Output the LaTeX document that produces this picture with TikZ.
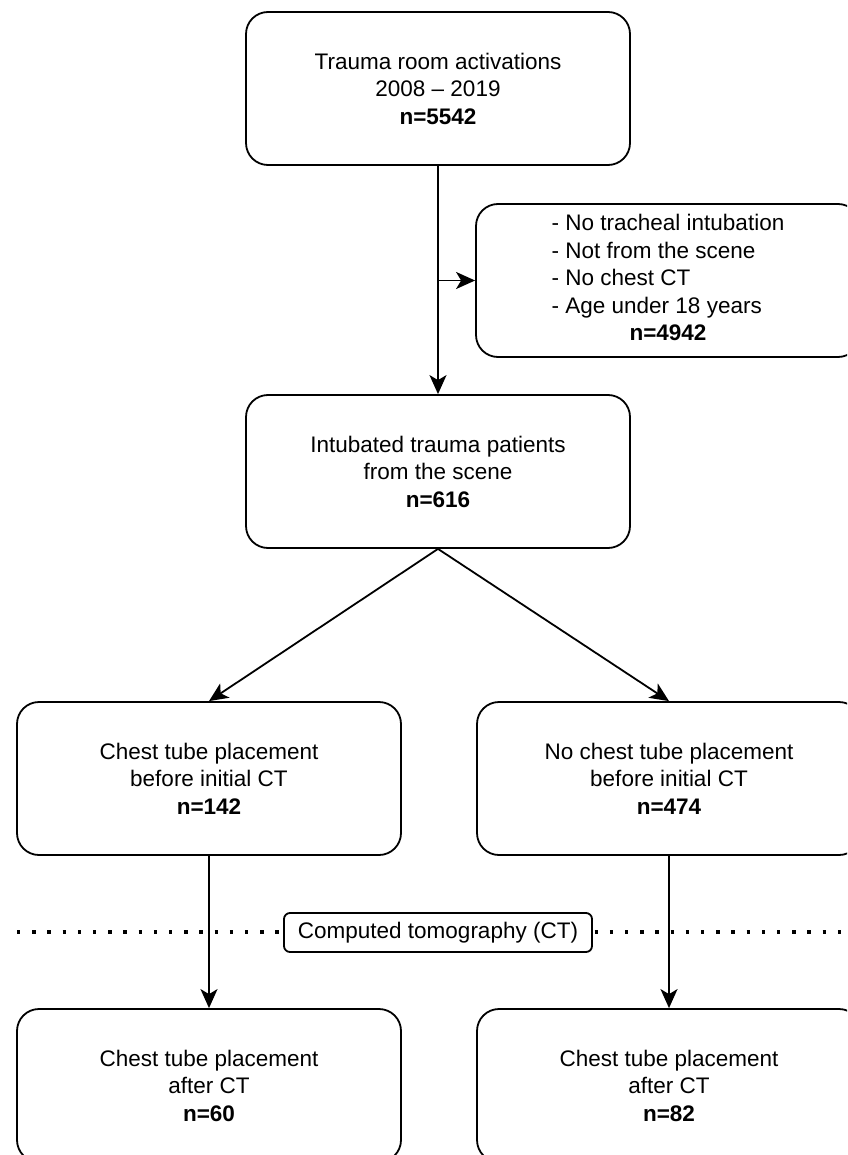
\documentclass[tikz,border=0pt]{standalone}
\usepackage{fontspec}
\setmainfont{Liberation Sans}
\usetikzlibrary{arrows.meta}
\tikzset{
  box/.style={draw, line width=1.8pt, rounded corners=22pt, minimum width=384pt, minimum height=153pt, align=center, inner sep=0pt, font=\fontsize{22.5}{27.5}\selectfont},
  lbl/.style={draw, fill=white, line width=1.8pt, rounded corners=6pt, minimum width=308pt, minimum height=39pt, inner sep=0pt, font=\fontsize{22.5}{27.5}\selectfont},
  arr/.style={line width=1.8pt, -{Stealth[length=19pt,width=17pt,inset=5pt]}},
  dots/.style={line width=3.4pt, dash pattern=on 3.4pt off 11.8pt}
}
\begin{document}
\begin{tikzpicture}[x=1pt,y=-1pt]
\useasboundingbox (0,0) rectangle (847,1155);
\clip (0,0) rectangle (847,1155);
\fill[white] (0,0) rectangle (847,1155);
\node[box] (top) at (438,88.5) {Trauma room activations\\2008 -- 2019\\\textbf{n=5542}};
\node[box] (excl) at (668,280.5) {\begin{tabular}{@{}l@{}}- No tracheal intubation\\- Not from the scene\\- No chest CT\\- Age under 18 years\\\multicolumn{1}{@{}c@{}}{\textbf{n=4942}}\end{tabular}};
\node[box] (mid) at (438,471.5) {Intubated trauma patients\\from the scene\\\textbf{n=616}};
\node[box] (lmid) at (209,778.5) {Chest tube placement\\before initial CT\\\textbf{n=142}};
\node[box] (rmid) at (669,778.5) {No chest tube placement\\before initial CT\\\textbf{n=474}};
\node[box] (lbot) at (209,1085.5) {Chest tube placement\\after CT\\\textbf{n=60}};
\node[box] (rbot) at (669,1085.5) {Chest tube placement\\after CT\\\textbf{n=82}};
\coordinate (dl) at (17,932);
\coordinate (dr) at (842,932);
\draw[dots] (dl) -- (dr);
\draw[arr] (top.south) -- (mid.north);
\draw[arr] (top.south |- excl.west) -- (excl.west);
\draw[arr] (mid.south) -- (lmid.north);
\draw[arr] (mid.south) -- (rmid.north);
\draw[arr] (lmid.south) -- (lbot.north);
\draw[arr] (rmid.south) -- (rbot.north);
\node[lbl] (ct) at (438,932.5) {Computed tomography (CT)};
\end{tikzpicture}
\end{document}
